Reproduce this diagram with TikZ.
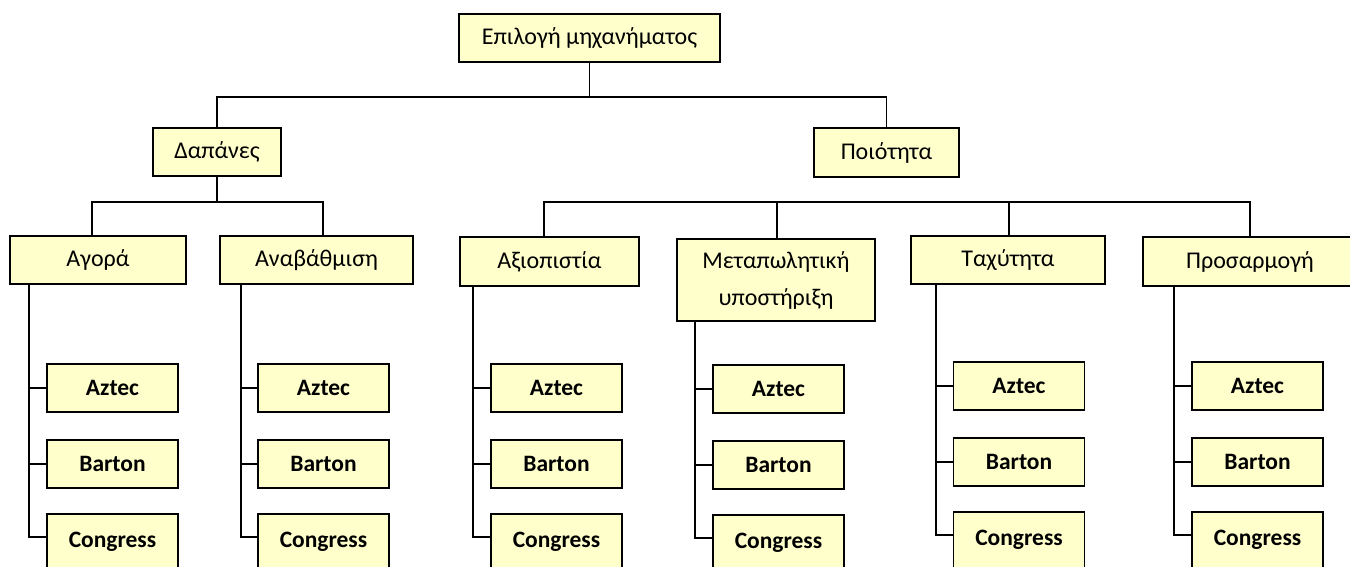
\documentclass[tikz,border=0pt]{standalone}
\usepackage{fontspec}
\setmainfont{Carlito}
\definecolor{boxfill}{RGB}{255,255,204}

% one column of alternatives hanging from a criterion box
% #1 prefix, #2 parent node, #3 spine x, #4 leaf centre x, #5 top of first leaf
\newcommand\altcolumn[5]{%
  \node[leaf, anchor=north] (#1a) at (#4,#5) {Aztec};
  \node[leaf, anchor=north] (#1b) at (#4,{#5+76}) {Barton};
  \node[leaf, anchor=north, minimum height=0pt, inner ysep=0pt,
        text height=34pt, text depth=60pt] (#1c) at (#4,{#5+150}) {Congress};
  \coordinate (#1end) at (#3,{#5+174});
  \draw[link] (#2.south -| #1end) -- (#1end) -- (#1c.west |- #1end);
  \draw[link] (#1a.west -| #1end) -- (#1a.west);
  \draw[link] (#1b.west -| #1end) -- (#1b.west);
}

\begin{document}
\begin{tikzpicture}[x=1pt,y=-1pt,
  box/.style={draw=black, line width=1.5pt, fill=boxfill, inner sep=0pt,
              align=center, font=\fontsize{24}{28}\selectfont},
  crit/.style={box, minimum height=48pt},
  leaf/.style={box, font=\bfseries\fontsize{23.5}{27}\selectfont,
               minimum width=131pt, minimum height=48pt},
  link/.style={line width=1.6pt}]
\useasboundingbox (0,0) rectangle (1350,567);
\clip (0,0) rectangle (1350,567);

% goal and main criteria
\node[crit, minimum width=261pt] (root) at (589.5,38) {Επιλογή μηχανήματος};
\node[crit, minimum width=128pt] (cost) at (217,152) {Δαπάνες};
\node[crit, minimum width=145pt, minimum height=49pt] (qual) at (886.5,152.5) {Ποιότητα};

\coordinate (busA) at (590,97);
\draw[link] (root.south) -- (root.south |- busA);
\draw[link] (cost.north) -- (cost.north |- busA) -- (qual.north |- busA) -- (qual.north);

% sub-criteria
\node[crit, minimum width=176pt] (buy) at (98,260) {Αγορά};
\node[crit, minimum width=193pt] (upg) at (316.5,260) {Αναβάθμιση};
\node[crit, minimum width=179pt, minimum height=49pt] (rel) at (549.5,261.5) {Αξιοπιστία};
\node[crit, minimum width=198pt, minimum height=82pt,
      font=\fontsize{24}{37}\selectfont] (sup) at (776,280) {Μεταπωλητική\\υποστήριξη};
\node[crit, minimum width=194pt] (spd) at (1008,260) {Ταχύτητα};
\node[crit, minimum width=214pt, minimum height=49pt] (adp) at (1250,261.5) {Προσαρμογή};

\coordinate (busB) at (0,202);
\draw[link] (cost.south) -- (cost.south |- busB);
\draw[link] (buy.north -| 92,0) -- (92,202) -- (323,202) -- (upg.north -| 323,0);

\draw[link] (rel.north -| 544,0) -- (544,202) -- (1250,202) -- (adp.north);
\draw[link] (sup.north -| 777,0) -- (777,202);
\draw[link] (spd.north -| 1009,0) -- (1009,202);

% alternatives
\altcolumn{p}{buy}{29}{112.5}{363}
\altcolumn{u}{upg}{241}{323.5}{363}
\altcolumn{r}{rel}{473}{556.5}{363}
\altcolumn{s}{sup}{695}{778.5}{364}
\altcolumn{t}{spd}{936}{1019}{361}
\altcolumn{a}{adp}{1174}{1257.5}{361}
\end{tikzpicture}
\end{document}
